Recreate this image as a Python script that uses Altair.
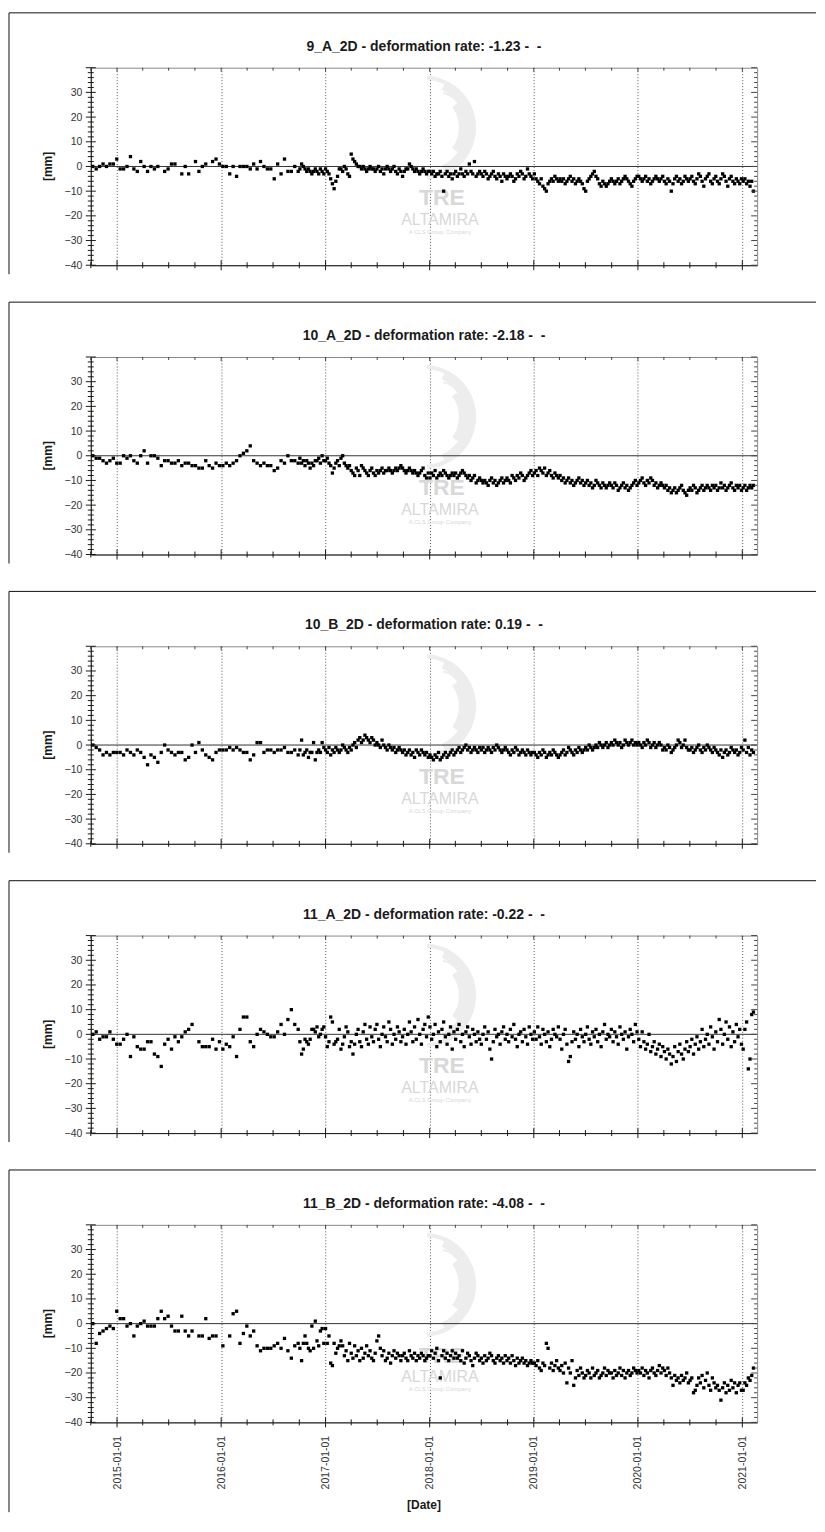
import math
import altair as alt
import pandas as pd

FONT = "Liberation Sans"
BASE = "2014-10-01"

# acquisition dates, in days after 2014-10-01
DAYS = [
    7, 19, 31, 43, 55, 67, 79, 91,
    103, 115, 127, 139, 151, 163, 175, 187, 199, 211, 223, 235, 247, 259, 271,
    283, 295, 307, 319, 331, 343, 355, 367, 379, 391, 403, 415, 427, 439, 451,
    463, 475, 487, 499, 511, 523, 535, 547, 559, 571, 583, 595, 607, 619, 631,
    643, 655, 667, 679, 691, 703, 715, 727,
    733, 739, 745, 751, 757, 763, 769, 775, 781, 787, 793, 799, 805, 811, 817,
    823, 829, 835, 841, 847, 853, 859, 865, 871, 877, 883, 889, 895, 901, 907,
    913, 919, 925, 931, 937, 943, 949, 955, 961, 967, 973, 979, 985, 991, 997,
    1003, 1009, 1015, 1021, 1027, 1033, 1039, 1045, 1051, 1057, 1063, 1069,
    1075, 1081, 1087, 1093, 1099, 1105, 1111, 1117, 1123, 1129, 1135, 1141,
    1147, 1153, 1159, 1165, 1171, 1177, 1183,
    1189, 1195, 1201, 1207, 1213, 1219, 1225, 1231, 1237, 1243, 1249, 1255,
    1261, 1267, 1273, 1279, 1285, 1291, 1297, 1303, 1309, 1315, 1321, 1327,
    1333, 1339, 1345, 1351, 1357, 1363, 1369, 1375, 1381, 1387, 1393, 1399,
    1405, 1411, 1417, 1423, 1429, 1435, 1441, 1447, 1453, 1459, 1465, 1471,
    1477, 1483, 1489, 1495, 1501, 1507, 1513, 1519, 1525, 1531, 1537, 1543, 1549,
    1555, 1561, 1567, 1573, 1579, 1585, 1591, 1597, 1603, 1609, 1615, 1621,
    1627, 1633, 1639, 1645, 1651, 1657, 1663, 1669, 1675, 1681, 1687, 1693,
    1699, 1705, 1711, 1717, 1723, 1729, 1735, 1741, 1747, 1753, 1759, 1765,
    1771, 1777, 1783, 1789, 1795, 1801, 1807, 1813, 1819, 1825, 1831, 1837,
    1843, 1849, 1855, 1861, 1867, 1873, 1879, 1885, 1891, 1897, 1903, 1909, 1915,
    1921, 1927, 1933, 1939, 1945, 1951, 1957, 1963, 1969, 1975, 1981, 1987,
    1993, 1999, 2005, 2011, 2017, 2023, 2029, 2035, 2041, 2047, 2053, 2059,
    2065, 2071, 2077, 2083, 2089, 2095, 2101, 2107, 2113, 2119, 2125, 2131,
    2137, 2143, 2149, 2155, 2161, 2167, 2173, 2179, 2185, 2191, 2197, 2203,
    2209, 2215, 2221, 2227, 2233, 2239, 2245, 2251, 2257, 2263, 2269, 2275, 2281,
    2287, 2293, 2299, 2305, 2311, 2317, 2323,
]

N = None

V_9A = [
    0, -1, 0, 1, 0, 1, 1, 3,
    -1, -1, 0, 4, -1, -2, 2, 0, -2, 0, -1, 0, N, -2, -1, 1, 1, N, -3, 0, -3, N, 2, -2, 0, 1, N, 2, 3, 1,
    0, 0, -3, 0, -4, 0, 0, 0, -1, 1, -1, 2, 0, -1, -1, -5, 1, -3, 3, -2, -2, 0, -2,
    -1, 1, 0, -1, -2, -1, -2, -3, -2, -1, -2, -3, -1, -2, -3,
    -1, -2, -3, -5, -7, -9, -6, -4, -1, -1, -2, 0, -1, -3, -4,
    5, 3, 2, 1, 0, 0, -1, 0, -1, -2, -1, 0, -1, -1, -2,
    -1, 0, -2, -1, -3, -1, 0, -1, -2, -1, 0, -2, -3, -1, -2,
    -4, -2, -1, -1, 1, 0, -1, -2, -1, -2, -3, -2, -1, -2, -3, -2,
    -2, -3, -2, -4, -3, -3, -2, -4, -10, -3, -2, -4, -3, -5, -3,
    -2, -4, -3, -1, -3, -4, -2, -3, 1, -2, -3, 2, -4, -3, -2,
    -3, -4, -2, -3, -5, -4, -3, -2, -4, -5, -3, -4, -6, -3, -4,
    -5, -4, -3, -4, -6, -5, -3, -4, -2, -3, -5, -4, -1, -3, -4, -5,
    -3, -5, -6, -7, -5, -8, -9, -10, -7, -6, -5, -6, -4, -5, -6,
    -5, -6, -5, -7, -6, -5, -4, -6, -5, -7, -6, -5, -6, -7, -9,
    -10, -6, -5, -4, -3, -2, -4, -5, -7, -8, -6, -7, -8, -7, -6,
    -5, -6, -7, -6, -5, -7, -6, -5, -4, -5, -6, -7, -8, -6, -5, -4,
    -4, -5, -6, -5, -4, -6, -5, -7, -6, -5, -4, -5, -6, -5, -4,
    -6, -7, -5, -6, -10, -7, -5, -4, -6, -5, -7, -6, -4, -5, -6,
    -5, -4, -6, -7, -5, -3, -4, -6, -8, -5, -4, -3, -6, -7, -5,
    -4, -6, -7, -5, -3, -4, -6, -8, -5, -4, -6, -7, -5, -6, -7, -5,
    -6, -5, -7, -6, -8, -6, -10,
]

V_10A = [
    0, -1, -1, -2, -3, -2, -1, -3,
    -3, 0, -1, 0, -2, -3, 0, 2, -3, 0, 0, -1, -4, -2, -2, -3, -3, -2, -4, -3, -3, -4, -4, -5, -5, -2, -4, -5, -3, -4,
    -4, -3, -4, -3, -2, 0, 1, 2, 4, -2, -3, -4, -3, -4, -4, -6, -5, -2, -3, 0, -2, -2, -3,
    -1, -3, -2, -4, -2, -3, -5, -3, -4, -2, -2, -1, -3, 0, -2,
    -2, -1, -3, -4, -7, -5, -3, -2, -4, -1, 0, -3, -4, -5, -4,
    -6, -7, -8, -5, -6, -8, -4, -5, -6, -7, -8, -6, -5, -7, -8,
    -6, -7, -6, -5, -7, -6, -6, -5, -6, -7, -6, -5, -6, -5, -4,
    -5, -6, -7, -6, -5, -6, -7, -6, -7, -8, -7, -6, -5, -8, -9, -7,
    -9, -7, -8, -6, -9, -8, -7, -8, -6, -7, -8, -9, -8, -7, -8,
    -7, -9, -8, -7, -6, -7, -8, -9, -8, -10, -9, -8, -11, -10, -9,
    -10, -11, -10, -11, -12, -10, -9, -11, -10, -12, -11, -10, -9, -11, -10,
    -9, -10, -11, -8, -9, -10, -8, -9, -7, -8, -10, -9, -8, -7, -6, -8,
    -7, -6, -8, -5, -6, -7, -5, -8, -7, -6, -8, -9, -7, -8, -9,
    -8, -10, -9, -11, -10, -9, -11, -10, -12, -11, -10, -9, -11, -10, -12,
    -11, -10, -12, -11, -13, -12, -10, -11, -12, -13, -11, -12, -13, -12, -11,
    -12, -13, -11, -12, -14, -13, -12, -11, -13, -12, -14, -13, -12, -11, -10, -12,
    -11, -10, -9, -11, -12, -10, -11, -9, -10, -12, -11, -13, -12, -11, -12,
    -13, -12, -14, -13, -15, -14, -13, -15, -14, -13, -12, -14, -15, -16, -14,
    -13, -14, -12, -13, -15, -14, -13, -12, -14, -13, -12, -13, -14, -12, -13,
    -12, -14, -13, -11, -13, -12, -14, -13, -12, -11, -13, -14, -12, -13, -12, -14,
    -13, -12, -14, -13, -12, -13, -12,
]

V_10B = [
    0, -1, -2, -4, -3, -4, -3, -3,
    -3, -4, -2, -3, -4, -2, -3, -5, -8, -4, -5, -7, -3, 0, -2, -3, -4, -3, -3, -6, -5, 0, -3, 1, -2, -4, -5, -6, -3, -2,
    -2, -2, -1, -2, -1, -2, -3, -3, -6, -4, 1, 1, -3, -2, -2, -3, -2, -2, -1, -3, -3, -2, -4,
    -2, 2, -4, -3, -2, -5, -3, -3, 1, -6, -3, -2, -3, 1, -1,
    -2, -3, -1, -4, -2, -3, -1, -2, -3, -2, 0, -1, -2, -3, -1,
    -2, 0, 1, -1, 2, 3, 1, 2, 4, 3, 2, 1, 3, 2, 0,
    1, 0, -1, 2, 0, -1, -2, 0, -1, -2, -1, -3, -2, -1, -2,
    -3, -2, -4, -3, -2, -4, -3, -5, -2, -3, -4, -2, -3, -4, -3, -5,
    -4, -5, -6, -4, -5, -3, -6, -5, -4, -3, -5, -4, -3, -2, -4,
    -3, -2, -1, -3, -2, -1, 0, -2, -1, -3, -2, -1, -2, -3, -1,
    -2, -1, -3, -2, -1, -2, -3, -1, -2, 0, -1, -2, -3, -2, -1,
    -2, -3, -4, -2, -3, -1, -2, -4, -3, -2, -3, -4, -2, -3, -4, -3,
    -3, -4, -5, -3, -4, -2, -3, -5, -4, -3, -4, -2, -3, -4, -5,
    -4, -3, -2, -4, -3, -1, -2, -3, -4, -2, -3, -1, -2, -3, -2,
    -1, -2, 0, -1, -2, -1, 0, -1, 1, 0, -1, 0, 1, -1, 0,
    1, 0, 2, 1, 0, 1, -1, 0, 2, 1, 0, 1, 2, 0, 1, 0,
    1, 0, -1, 1, 0, 2, 1, -1, 0, 1, -1, 0, 1, 0, -2,
    -1, -2, 0, -1, -3, -2, -1, 0, 2, 1, -1, 0, 2, -1, -2,
    -2, -1, -3, -2, -1, 0, -2, -3, -1, -2, 0, -1, -2, -3, -1,
    -2, -3, -4, -2, -5, -3, -2, -4, -3, -1, -2, -3, -2, -4, -3, -1,
    -2, 2, -3, -1, -4, -2, -3,
]

V_11A = [
    0, 1, -2, -1, -1, 1, -2, -4,
    -4, -2, 0, -9, -1, -5, -6, -6, -3, -3, -8, -9, -13, -4, -2, -6, -1, -3, -1, 1, 2, 4, N, -3, -5, -5, -5, -2, -6, -3,
    -6, -4, -5, -1, -9, 2, 7, 7, -3, -5, 0, 2, 1, 0, -1, -1, 1, 4, 0, 6, 10, 4, 2,
    -3, -8, -6, -2, -3, -4, -2, 2, 2, 1, 3, -1, 0, 2, 3,
    -1, -5, -3, 7, 5, -4, -3, -2, 2, -6, -4, -1, 3, 1, -5,
    -3, -8, -4, 0, 2, -3, -5, 1, 4, -2, -4, 3, -1, -3, 2,
    4, -2, -5, 0, 3, -1, -3, 5, 2, -4, 0, -2, 3, 1, -3,
    -1, 2, -4, 0, 5, 1, -3, 3, -2, 6, 0, -4, 2, 4, -1, 7,
    3, -2, 0, 4, -5, 1, -3, 2, 5, -1, -4, 0, 3, -6, 1,
    -2, 2, 4, -3, 0, -5, 1, 3, -1, -4, 2, 0, -3, 1, -2,
    -4, 0, 3, -2, 1, -6, -10, -3, 2, -1, 0, -4, 1, 3, -2,
    0, -3, 2, -1, 4, -2, -5, 0, 1, -3, 2, -1, -4, 3, 0, -2,
    1, -2, 3, -1, -4, 2, 0, -3, 1, -5, -2, 2, 0, -1, 3,
    -2, -6, 0, 2, -4, -11, -9, -3, 1, -2, 0, -5, 2, -1, -3,
    0, 3, -2, -4, 1, -1, 2, -3, 0, -5, 1, 4, -2, 0, -1,
    2, -3, 1, -1, -4, 3, 0, -2, 1, -6, -1, 2, 0, -3, 4, 1,
    -2, -5, 1, -3, -6, -4, 0, -7, -5, -3, -8, -6, -4, -9, -5,
    -7, -10, -6, -8, -12, -9, -5, -11, -7, -4, -8, -10, -6, -3, -7,
    -5, -2, -8, -4, -1, -6, -3, 2, -5, -2, 0, -4, 3, -1, -6,
    1, -3, 6, 2, -4, 0, 5, -2, 3, -5, 1, -3, 4, -1, 2, -4,
    -6, 2, 5, -14, -10, 8, 9,
]

V_11B = [
    0, -8, -4, -3, -2, -1, -2, 5,
    2, 2, -1, 0, -5, -1, 0, 1, -1, -1, -1, 2, 5, 2, 3, -1, -3, -3, 3, -3, -5, -3, N, -5, -5, 2, -6, -5, -5, N,
    -9, N, -5, 4, 5, -8, -4, -1, -5, -3, -9, -11, -10, -10, -10, -9, -8, -10, -6, -11, -14, -9, -8,
    -10, -15, -8, -5, -8, -10, -11, -1, -10, 1, -7, -9, -3, -2, -8,
    -2, -8, -5, -16, -17, -8, -12, -10, -9, -7, -9, -13, -11, -15, -8,
    -12, -14, -9, -13, -11, -15, -10, -14, -12, -9, -13, -11, -14, -15, -12,
    -7, -5, -10, -13, -11, -15, -14, -12, -16, -13, -11, -14, -12, -13, -15,
    -13, -12, -14, -15, -11, -13, -14, -12, -15, -13, -14, -12, -13, -15, -14, -13,
    -13, -11, -14, -12, -10, -15, -22, -13, -11, -14, -12, -15, -13, -11, -14,
    -12, -14, -13, -15, -11, -16, -14, -12, -13, -15, -17, -14, -12, -13, -15,
    -14, -16, -13, -15, -14, -12, -13, -15, -16, -14, -13, -15, -14, -16, -13,
    -15, -14, -16, -13, -15, -17, -14, -16, -15, -14, -16, -15, -17, -16, -15, -16,
    -16, -17, -15, -18, -19, -16, -17, -8, -10, -18, -16, -19, -17, -15, -18,
    -19, -17, -20, -16, -24, -18, -20, -15, -25, -22, -19, -21, -18, -20, -22,
    -21, -19, -20, -22, -18, -21, -20, -19, -22, -21, -20, -18, -21, -19, -20,
    -20, -22, -19, -21, -20, -18, -21, -19, -22, -20, -19, -21, -20, -18, -19, -20,
    -19, -20, -18, -21, -19, -20, -22, -19, -18, -20, -21, -19, -17, -20, -18,
    -19, -21, -18, -20, -22, -25, -21, -23, -22, -24, -21, -23, -22, -20, -24,
    -23, -22, -28, -27, -25, -22, -24, -21, -26, -23, -20, -25, -27, -22, -24,
    -26, -25, -27, -31, -26, -24, -28, -25, -27, -23, -26, -24, -28, -25, -24, -27,
    -27, -24, -25, -22, -23, -21, -18,
]

SERIES = [V_9A, V_10A, V_10B, V_11A, V_11B]
TITLES = [
    "9_A_2D - deformation rate: -1.23 - \u00a0-",
    "10_A_2D - deformation rate: -2.18 - \u00a0-",
    "10_B_2D - deformation rate: 0.19 - \u00a0-",
    "11_A_2D - deformation rate: -0.22 - \u00a0-",
    "11_B_2D - deformation rate: -4.08 - \u00a0-",
]

YEAR_TICKS = ["2015-01-01", "2016-01-01", "2017-01-01", "2018-01-01",
              "2019-01-01", "2020-01-01", "2021-01-01"]
QUARTER_TICKS = ["2014-10-01",
                 "2015-04-01", "2015-07-01", "2015-10-01",
                 "2016-04-01", "2016-07-01", "2016-10-01",
                 "2017-04-01", "2017-07-01", "2017-10-01",
                 "2018-04-01", "2018-07-01", "2018-10-01",
                 "2019-04-01", "2019-07-01", "2019-10-01",
                 "2020-04-01", "2020-07-01", "2020-10-01"]
Y_LABELS = [-40, -30, -20, -10, 0, 10, 20, 30]
Y_MAJOR = [-40, -30, -20, -10, 0, 10, 20, 30, 40]
Y_MINOR = [-38, -36, -34, -32, -28, -26, -24, -22, -18, -16, -14, -12,
           -8, -6, -4, -2, 2, 4, 6, 8, 12, 14, 16, 18, 22, 24, 26, 28,
           32, 34, 36, 38]

W, H = 668, 198
INK = "#1a1a1a"
WM = "#d8d8d8"
WM_LIGHT = "#ededed"

xs = alt.Scale(domain=[alt.DateTime(year=2014, month=10, date=1),
                       alt.DateTime(year=2021, month=2, date=22)])
ys = alt.Scale(domain=[-40, 40], nice=False, zero=False)
one = pd.DataFrame({"k": [0]})


def ydates(strings):
    return pd.DataFrame({"date": pd.to_datetime(strings)})


def yvals(vals):
    return pd.DataFrame({"mm": vals})


def text(t, x, y, size, weight="normal", color=INK, angle=0, font=FONT):
    kw = dict(text=t, font=font, fontSize=size, fontWeight=weight, color=color,
              align="center", baseline="middle")
    if angle:
        kw["angle"] = angle
    return alt.Chart(one).mark_text(**kw).encode(x=alt.value(x), y=alt.value(y))


def arc(cx, cy, r_out, r_in, t0, t1, color):
    return alt.Chart(one).mark_arc(
        radius=r_out, radius2=r_in, theta=t0, theta2=t1, color=color
    ).encode(x=alt.value(cx), y=alt.value(cy))


def make_panel(i, last):
    rows = [(pd.Timestamp(BASE) + pd.Timedelta(days=d), v)
            for d, v in zip(DAYS, SERIES[i]) if v is not None]
    df = pd.DataFrame(rows, columns=["date", "mm"])

    xaxis = alt.Axis(
        values=[alt.DateTime(year=int(s[:4]), month=1, date=1) for s in YEAR_TICKS],
        format="%Y-%m-%d", labels=last, labelAngle=270, labelPadding=13,
        labelFont=FONT, labelFontSize=10.5, labelColor="#333",
        ticks=False, tickSize=0, grid=True, gridDash=[1, 2], gridColor="#555",
        gridWidth=1, domainColor=INK, domainWidth=1, title=None)
    yaxis = alt.Axis(
        values=Y_LABELS, labelFont=FONT, labelFontSize=10.5, labelColor="#333",
        labelPadding=9, ticks=False, tickSize=0, grid=False,
        domainColor=INK, domainWidth=1, title=None)

    X = alt.X("date:T", scale=xs, axis=xaxis)
    Y = alt.Y("mm:Q", scale=ys, axis=yaxis)

    def xrule(df_, y1, y2, color=INK):
        return alt.Chart(df_).mark_rule(color=color, strokeWidth=1).encode(
            x=X, y=alt.value(y1), y2=alt.value(y2))

    def yrule(df_, x1, x2, color=INK):
        return alt.Chart(df_).mark_rule(color=color, strokeWidth=1).encode(
            y=Y, x=alt.value(x1), x2=alt.value(x2))

    frame_top = alt.Chart(one).mark_rule(color="#111", strokeWidth=1).encode(
        x=alt.value(-82), x2=alt.value(727), y=alt.value(-55))
    frame_left = alt.Chart(one).mark_rule(color="#111", strokeWidth=1).encode(
        x=alt.value(-82), y=alt.value(-55), y2=alt.value(H + (90 if last else 9)))

    pi = math.pi
    wm = [
        arc(334, 60, 52, 48, 0.02 * pi, 0.98 * pi, WM_LIGHT),
        arc(334, 60, 52, 42, 0.14 * pi, 0.86 * pi, WM_LIGHT),
        arc(334, 60, 52, 35, 0.30 * pi, 0.70 * pi, WM_LIGHT),
        arc(350, 46, 30, 28, 0.05 * pi, 0.40 * pi, WM_LIGHT),
        arc(350, 46, 22, 20, 0.05 * pi, 0.40 * pi, WM_LIGHT),
        text("TRE", 352, 131, 23, "bold", WM),
        text("ALTAMIRA", 350, 153, 16, "normal", WM),
        text("A CLS Group Company", 350, 165, 6, "normal", WM),
    ]

    zero = alt.Chart(yvals([0])).mark_rule(color="#333", strokeWidth=1).encode(
        y=Y, x=alt.value(0), x2=alt.value(W))

    pts = alt.Chart(df).mark_square(size=11, color="#000", opacity=1).encode(x=X, y=Y)

    ticks = [
        yrule(yvals(Y_MAJOR), -5, 5),
        yrule(yvals(Y_MINOR), -3, 3),
        yrule(yvals(Y_MAJOR), W - 6, W, "#444"),
        yrule(yvals(Y_MINOR), W - 3, W, "#444"),
        xrule(ydates(YEAR_TICKS), H - 5, H + 5),
        xrule(ydates(QUARTER_TICKS), H - 3, H + 3),
        xrule(ydates(YEAR_TICKS), 0, 4, "#444"),
        xrule(ydates(QUARTER_TICKS), 0, 3, "#444"),
    ]

    labels = [
        text(TITLES[i], W / 2, -21, 14, "bold"),
        text("[mm]", -43, H / 2, 12, "bold", angle=270),
    ]
    if last:
        labels.append(text("[Date]", W / 2, H + 83, 12, "bold"))

    return alt.layer(frame_top, frame_left, *wm, zero, pts, *ticks, *labels).properties(
        width=W, height=H)


panels = [make_panel(i, i == len(SERIES) - 1) for i in range(len(SERIES))]

chart = alt.vconcat(*panels, spacing=26).properties(
    padding={"left": 0, "top": 2, "right": 0, "bottom": 0}
).configure_view(stroke="#888", strokeWidth=1)

chart.save("out.html", embed_options={"renderer": "svg", "actions": False})
